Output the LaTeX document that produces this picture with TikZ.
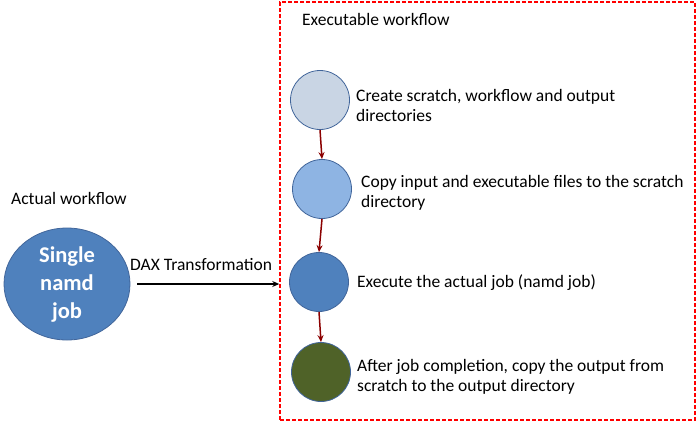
\documentclass[tikz,border=0pt]{standalone}
\usepackage{fontspec}
\setmainfont{Carlito}
\usetikzlibrary{arrows.meta,shapes.geometric}
\definecolor{c1}{HTML}{C9D5E4}
\definecolor{c2}{HTML}{8EB4E3}
\definecolor{c3}{HTML}{4F81BD}
\definecolor{c4}{HTML}{4F6228}
\definecolor{cstroke}{HTML}{41659A}
\definecolor{dred}{HTML}{8B0000}
\begin{document}
\begin{tikzpicture}[x=1pt,y=-1pt,
  stepnode/.style={circle,draw=cstroke,line width=0.8pt,minimum size=59pt,inner sep=0pt},
  lbl/.style={anchor=west,align=left,inner sep=0pt,font=\fontsize{17.5}{20}\selectfont},
  redarrow/.style={-{Stealth[length=7pt,width=6pt]},draw=dred,line width=1.5pt}]
\useasboundingbox (0,0) rectangle (700,426);
\node[draw=red,dash pattern=on 4pt off 2pt,line width=1.5pt,minimum width=415pt,minimum height=418pt,inner sep=0pt] (box) at (487.5,211) {};
\node[lbl] (exw) at (302,19) {Executable workflow};
\node[stepnode,fill=c1] (s1) at (320,100) {};
\node[stepnode,fill=c2] (s2) at (322,189) {};
\node[stepnode,fill=c3] (s3) at (319,282) {};
\node[stepnode,fill=c4] (s4) at (321,372) {};
\node[lbl] (t1) at (356,105) {Create scratch, workflow and output\\directories};
\node[lbl] (t2) at (361,193) {Copy input and executable files to the scratch\\directory};
\node[lbl] (t3) at (357,283) {Execute the actual job (namd job)};
\node[lbl] (t4) at (357,377) {After job completion, copy the output from\\scratch to the output directory};
\draw[redarrow] (s1.south) -- (s2.north);
\draw[redarrow] (s2.south) -- (s3.north);
\draw[redarrow] (s3.south) -- (s4.north);
\node[lbl] (aw) at (11,198) {Actual workflow};
\node[ellipse,draw=cstroke,line width=0.8pt,fill=c3,minimum width=126pt,minimum height=112pt,inner sep=0pt,
  text=white,align=center,font=\bfseries\fontsize{22.5}{28}\selectfont] (job) at (67,284) {Single\\namd\\job};
\coordinate (boxin) at (box.west |- job.east);
\draw[-{Stealth[length=7pt,width=6pt]},line width=1.4pt] ([xshift=7pt]job.east) -- (boxin);
\node[lbl] (dax) at (130,265) {DAX Transformation};
\end{tikzpicture}
\end{document}
